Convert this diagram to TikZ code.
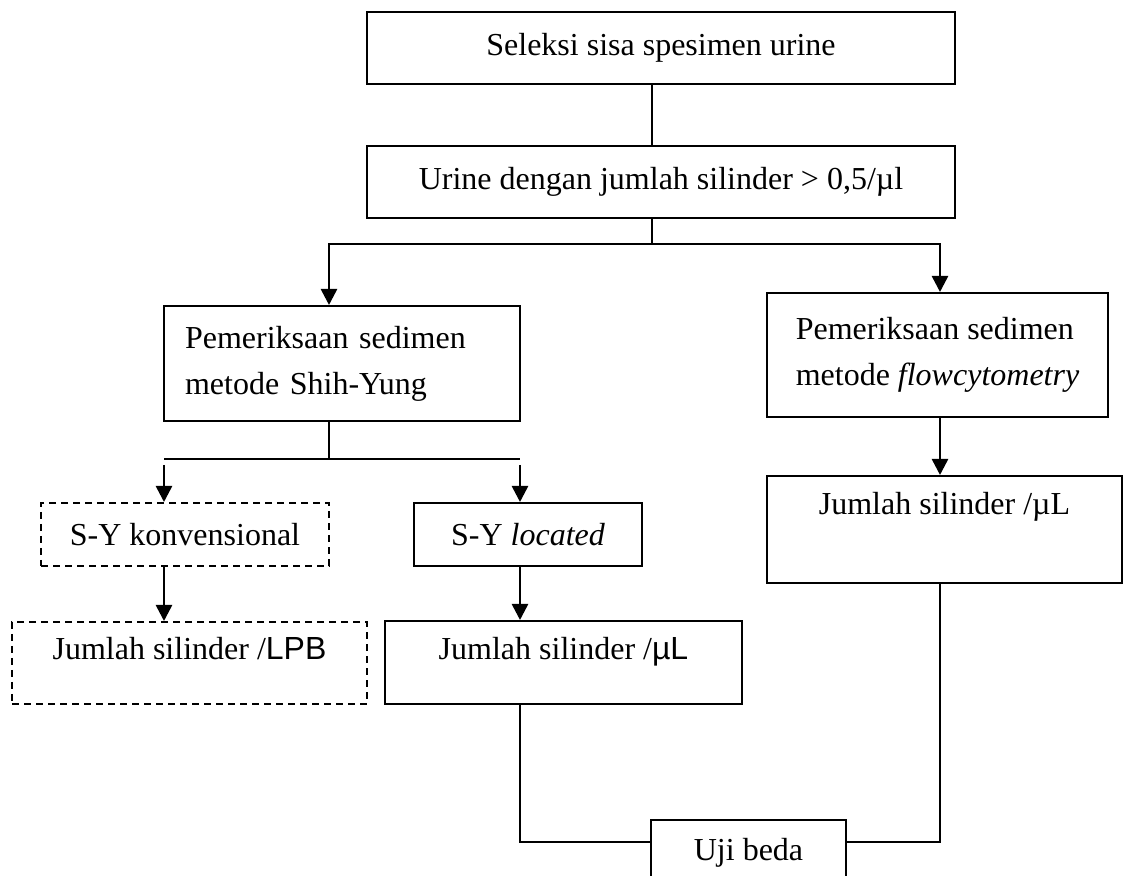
\documentclass[tikz,border=0pt]{standalone}
\usepackage{fontspec}
\setmainfont{Liberation Serif}
\newfontfamily\arialfont{Liberation Sans}
\usetikzlibrary{arrows.meta}
\tikzset{
  urine box/.style={
    draw, line width=1pt, inner sep=0pt,
    font=\fontsize{16}{23}\selectfont, align=center
  },
  urine dashbox/.style={urine box, dash pattern=on 3.5pt off 2.5pt},
  urine top/.style={text height=11pt, text depth=14pt},
  urine arr/.style={-{Triangle[length=8pt, width=8pt]}, line width=1.3pt},
  urine bar/.style={line width=1.3pt},
  urine line/.style={line width=1pt}
}

\begin{document}
\begin{tikzpicture}[x=0.5pt, y=-0.5pt]
  \useasboundingbox (0,0) rectangle (1126,876);

  \node[urine box, minimum width=294pt, minimum height=36pt] (seleksi) at (661,48)
    {Seleksi sisa spesimen urine};
  \node[urine box, minimum width=294pt, minimum height=36pt] (urine) at (661,182)
    {Urine dengan jumlah silinder > 0,5/µl};

  \node[urine box, align=left, text width=157pt, inner xsep=10.5pt,
    minimum height=57.5pt] (shih) at (342,363.5)
    {Pemeriksaan sedimen\\metode Shih-Yung};
  \node[urine box, align=left, minimum width=170.5pt, minimum height=62pt] (flow)
    at (937.5,355) {Pemeriksaan sedimen\\metode \textit{flowcytometry}};

  \node[urine dashbox, minimum width=144pt, minimum height=31.5pt] (konv)
    at (185,534.5) {S-Y konvensional};
  \node[urine box, minimum width=114pt, minimum height=31.5pt] (located)
    at (528,534.5) {S-Y \textit{located}};

  \node[urine dashbox, urine top, minimum width=177.5pt, minimum height=41pt] (lpb)
    at (189.5,663) {Jumlah silinder /{\arialfont LPB}};
  \node[urine box, urine top, minimum width=178.5pt, minimum height=41.5pt] (sylj)
    at (563.5,662.5) {Jumlah silinder /{\arialfont µL}};
  \node[urine box, urine top, text depth=25.5pt, minimum width=177.5pt,
    minimum height=53.5pt] (fclj) at (944.5,529.5) {Jumlah silinder /µL};

  \node[urine box, minimum width=97.5pt, minimum height=32.5pt] (uji)
    at (748.5,852.5) {Uji beda};

  \coordinate (split) at (652,244);
  \coordinate (left) at (329,244);
  \coordinate (right) at (940,244);
  \coordinate (split2) at (329,459);
  \coordinate (konvtop) at (164,459);
  \coordinate (loctop) at (520,459);

  \draw[urine line] (split |- seleksi.south) -- (split |- urine.north);
  \draw[urine line] (split |- urine.south) -- (split);
  \draw[urine arr] (split) -- (left) -- (left |- shih.north);
  \draw[urine arr] (split) -- (right) -- (right |- flow.north);

  \draw[urine line] (split2 |- shih.south) -- (split2);
  \draw[urine bar] (konvtop) -- (loctop);
  \draw[urine arr] ([yshift=-3pt]konvtop) -- (konvtop |- konv.north);
  \draw[urine arr] ([yshift=-3pt]loctop) -- (loctop |- located.north);

  \draw[urine arr] (konvtop |- konv.south) -- (konvtop |- lpb.north);
  \draw[urine arr] (loctop |- located.south) -- (loctop |- sylj.north);
  \draw[urine arr] (right |- flow.south) -- (right |- fclj.north);

  \draw[urine line] (loctop |- sylj.south) |- ([yshift=5.25pt]uji.west);
  \draw[urine line] (right |- fclj.south) |- ([yshift=5.25pt]uji.east);
\end{tikzpicture}
\end{document}
